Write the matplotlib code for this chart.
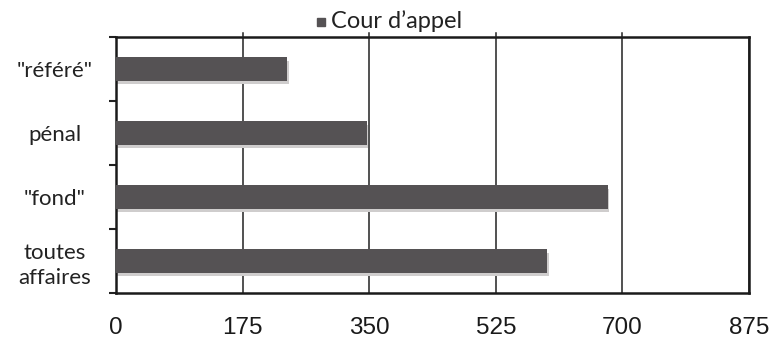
import matplotlib
matplotlib.use("Agg")
import matplotlib.pyplot as plt
from matplotlib.patches import Rectangle
import numpy as np

# Données : Cour d'appel
categories = ['"référé"', "pénal", '"fond"', "toutes\naffaires"]
valeurs = [237, 347, 680, 596]
xticks = [0, 175, 350, 525, 700, 875]
serie = "Cour d\u2019appel"

bar_color = "#555254"
shadow_color = "#cfcdcd"

W, H = 772, 338
fig = plt.figure(figsize=(W / 100, H / 100), dpi=100)
ax = fig.add_axes([116 / W, 1 - 293 / H, (749 - 116) / W, (293 - 37) / H])

y = np.arange(len(categories))
h = 0.36
# ombre légère sous chaque barre
ax.barh(y + 0.055, valeurs, height=h, color=shadow_color, zorder=2, left=2)
ax.barh(y, valeurs, height=h, color=bar_color, zorder=3)

ax.set_xlim(0, 875)
ax.set_ylim(len(categories) - 0.5, -0.5)

ax.set_xticks(xticks)
ax.set_xticklabels([str(t) for t in xticks],
                   family=["Liberation Sans", "DejaVu Sans"], fontsize=17.5,
                   color="#1a1a1a")
ax.tick_params(axis="x", which="major", length=0, pad=17)
ax.grid(axis="x", color="#222222", linewidth=1.1, zorder=1)

# graduations de séparation entre catégories
ax.set_yticks(np.arange(-0.5, len(categories), 1.0))
ax.set_yticklabels([])
ax.tick_params(axis="y", which="major", length=5, width=1.5, direction="out", color="#222222")
ax.set_yticks(y, minor=True)
ax.set_yticklabels(categories, minor=True, family=["Lato", "DejaVu Sans"],
                   fontsize=16, color="#222222", ha="center", linespacing=1.3)
ax.tick_params(axis="y", which="minor", length=0, pad=44)

for s in ax.spines.values():
    s.set_color("#1a1a1a")
    s.set_linewidth(1.8)

# petites graduations au-dessus du cadre
for t in xticks[1:-1]:
    ax.plot([t, t], [-0.5, -0.56], color="#222222", linewidth=1.1, clip_on=False, zorder=4)

# légende
fig.patches.append(Rectangle((317 / W, 1 - 26 / H), 8 / W, 8 / H,
                             transform=fig.transFigure, color=bar_color))
fig.text(331 / W, 1 - 21 / H, serie, fontsize=17, color="#222222", ha="left",
         va="center", family=["Lato", "DejaVu Sans"])

fig.savefig("out.png", dpi=100, facecolor="white")
